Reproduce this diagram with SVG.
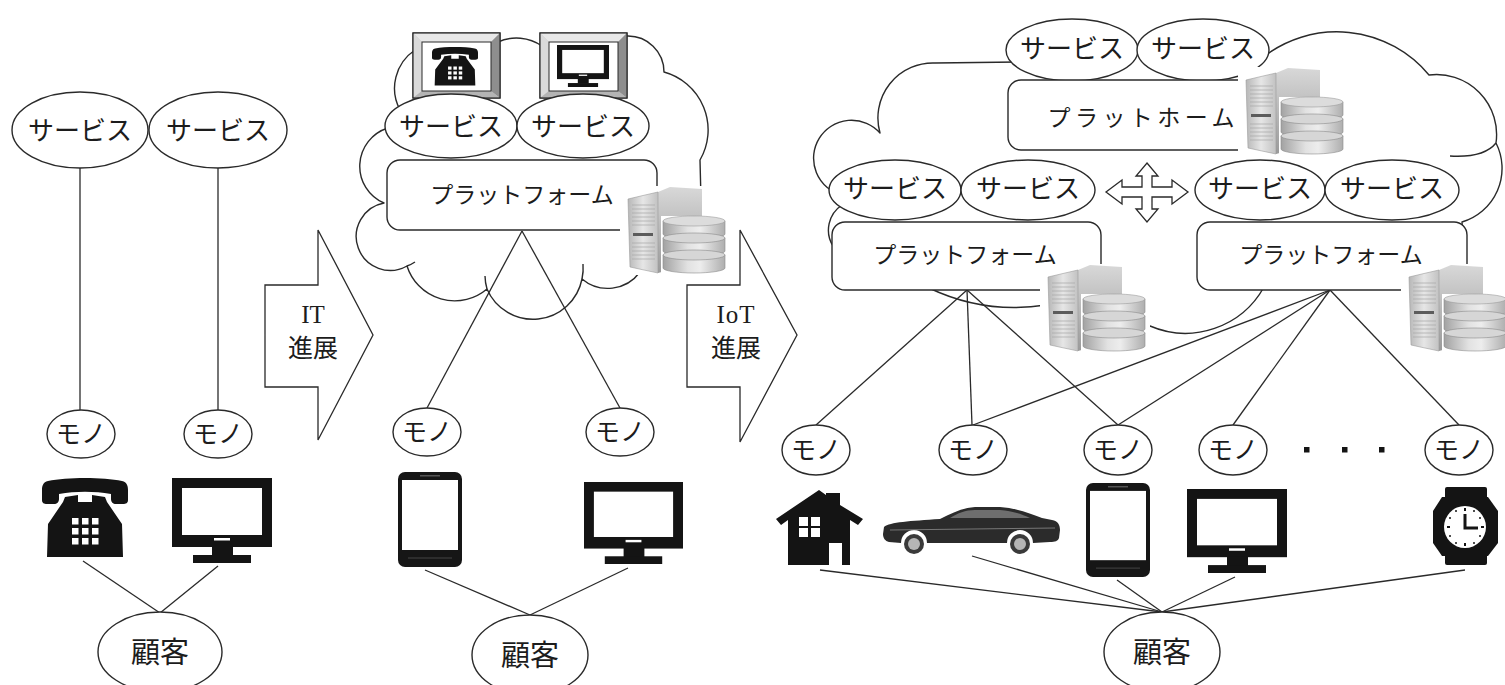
<svg xmlns="http://www.w3.org/2000/svg" width="1505" height="685" viewBox="0 0 1505 685">
  <defs>
    <style>
      .ln{fill:none;stroke:#2a2a2a;stroke-width:1.3}
      .el{fill:#fff;stroke:#2a2a2a;stroke-width:1.4}
      .box{fill:#fff;stroke:#2a2a2a;stroke-width:1.4}
      .cloud{fill:#fff;stroke:#2a2a2a;stroke-width:1.4;stroke-linejoin:round}
      .tail{fill:none;stroke:#2a2a2a;stroke-width:1.4}
      .arrow{fill:#fff;stroke:#2a2a2a;stroke-width:1.3;stroke-linejoin:miter}
      .jp{font-family:"Noto Sans CJK JP","Noto Sans CJK SC",sans-serif;fill:#1c1c1c;text-anchor:middle}
      .lat{font-family:"Liberation Serif","Noto Sans CJK JP",serif;fill:#1c1c1c;text-anchor:middle}
      .svc{font-size:26px}
      .mono{font-size:25px}
      .cust{font-size:29px}
      .plat{font-size:23px}
      .ink{fill:#141414}
      .vent{stroke:#a8a8a8;stroke-width:0.7;fill:none}
    </style>
    <linearGradient id="srvA" x1="0" y1="0" x2="1" y2="0">
      <stop offset="0" stop-color="#b7b7b7"/>
      <stop offset="0.5" stop-color="#e6e6e6"/>
      <stop offset="1" stop-color="#c2c2c2"/>
    </linearGradient>
    <linearGradient id="srvB" x1="0" y1="0" x2="0" y2="1">
      <stop offset="0" stop-color="#d8d8d8"/>
      <stop offset="1" stop-color="#9a9a9a"/>
    </linearGradient>
    <linearGradient id="disk" x1="0" y1="0" x2="1" y2="0">
      <stop offset="0" stop-color="#a2a2a2"/>
      <stop offset="0.4" stop-color="#e2e2e2"/>
      <stop offset="0.6" stop-color="#ededed"/>
      <stop offset="1" stop-color="#aeaeae"/>
    </linearGradient>

    <!-- server tower with database stack, on a white backing -->
    <symbol id="server" viewBox="0 0 110 92" preserveAspectRatio="none">
      <rect x="0" y="3" width="110" height="89" fill="#fff"/>
      <path d="M38 9 L50 4 L82 6 L82 78 L38 90 Z" fill="url(#srvB)"/>
      <path d="M8 16 L38 9 L38 90 L10 84 Z" fill="url(#srvA)" stroke="#9a9a9a" stroke-width="0.6"/>
      <path class="vent" d="M12 22 H35 M12 26 H35 M12 30 H35 M12 34 H35 M12 38 H35 M12 42 H35 M12 60 H35 M12 64 H35 M12 68 H35 M12 72 H35 M12 76 H35"/>
      <rect x="13" y="50" width="20" height="3" fill="#5c5c5c"/>
      <rect x="41" y="33" width="69" height="59" fill="#fff"/>
      <path d="M43 38 V51 A31 5 0 0 0 105 51 V38 Z" fill="url(#disk)" stroke="#8a8a8a" stroke-width="0.6"/>
      <ellipse cx="74" cy="38" rx="31" ry="5" fill="#dcdcdc" stroke="#9a9a9a" stroke-width="0.6"/>
      <path d="M43 55 V68 A31 5 0 0 0 105 68 V55 Z" fill="url(#disk)" stroke="#8a8a8a" stroke-width="0.6"/>
      <ellipse cx="74" cy="55" rx="31" ry="5" fill="#d6d6d6" stroke="#8a8a8a" stroke-width="0.6"/>
      <path d="M43 72 V85 A31 5 0 0 0 105 85 V72 Z" fill="url(#disk)" stroke="#8a8a8a" stroke-width="0.6"/>
      <ellipse cx="74" cy="72" rx="31" ry="5" fill="#d6d6d6" stroke="#8a8a8a" stroke-width="0.6"/>
    </symbol>

    <!-- desk telephone -->
    <symbol id="phone" viewBox="0 0 86 80" preserveAspectRatio="none">
      <path class="ink" d="M6 3 C25 -1 61 -1 80 3 C85 4 86 8 86 12 L86 22 C86 25 84 26 81 26 L74 26 C71 26 69 24 69 21 L69 16 C52 13 34 13 17 16 L17 21 C17 24 15 26 12 26 L5 26 C2 26 0 25 0 22 L0 12 C0 8 1 4 6 3 Z"/>
      <path class="ink" d="M23 19 L36 17 L36 24 L50 24 L50 17 L63 19 L65 24 L80 46 L81 79 L5 79 L6 46 L21 24 Z"/>
      <g fill="#fff">
        <rect x="30" y="40" width="6.5" height="6.5"/><rect x="40" y="40" width="6.5" height="6.5"/><rect x="50" y="40" width="6.5" height="6.5"/>
        <rect x="30" y="50" width="6.5" height="6.5"/><rect x="40" y="50" width="6.5" height="6.5"/><rect x="50" y="50" width="6.5" height="6.5"/>
        <rect x="30" y="60" width="6.5" height="6.5"/><rect x="40" y="60" width="6.5" height="6.5"/><rect x="50" y="60" width="6.5" height="6.5"/>
      </g>
    </symbol>

    <!-- flat-screen monitor -->
    <symbol id="monitor" viewBox="0 0 100 85" preserveAspectRatio="none">
      <rect class="ink" x="0" y="0" width="100" height="69"/>
      <rect x="10" y="10" width="80" height="47" fill="#fff"/>
      <rect x="42" y="60" width="16" height="2.5" fill="#fff"/>
      <rect class="ink" x="40" y="68" width="21" height="10"/>
      <rect class="ink" x="21" y="77" width="58" height="8"/>
    </symbol>

    <!-- smartphone -->
    <symbol id="smartphone" viewBox="0 0 64 95" preserveAspectRatio="none">
      <rect x="0" y="0" width="64" height="95" rx="7" fill="#161616"/>
      <rect x="4" y="8" width="56" height="70" fill="#fff"/>
      <rect x="22" y="3" width="20" height="1.5" fill="#555"/>
      <path d="M10 86 H54" stroke="#454545" stroke-width="1"/>
    </symbol>
  </defs>

  <rect x="0" y="0" width="1505" height="685" fill="#fff"/>

  <!-- clouds -->
  <g id="clouds">
    <path id="cloud-it" class="cloud" d="M384,203 A40 40 0 0 1 388,128 L400,110 A46 46 0 0 1 415,50 L498,42 A45 45 0 0 1 542,46 L622,38 L627,36 A36 36 0 0 1 664,72 A60 60 0 0 1 700,160 L702,240 L640,272 A40 40 0 0 1 582,279 A50 50 0 0 1 487,289 A50 50 0 0 1 407,266 A34 34 0 1 1 384,203 Z"/>
    <path class="tail" d="M487,289 A50 50 0 0 1 485,276"/>
    <path class="tail" d="M407,266 A34 34 0 0 0 415,262"/>
    <path class="tail" d="M582,279 A50 50 0 0 0 583,264"/>

    <path id="cloud-iot" class="cloud" d="M833,246 A30 30 0 0 1 842,205 L842,195 A38 38 0 1 1 880,133 A55 55 0 0 1 935,63 L1020,62 L1020,50 L1262,50 L1262,58 A120 120 0 0 1 1429,75 A60 60 0 0 1 1496,143 A56 56 0 0 1 1462,222 L1465,262 L1440,282 L1264,287 A90 90 0 0 1 1150,326 L1100,330 L1046,305 A200 200 0 0 1 929,288 L840,288 L840,248 Z"/>
    <path class="tail" d="M1496,143 Q1484,158 1450,156"/>
  </g>

  <!-- connectors -->
  <g id="connectors" class="ln">
    <path d="M80,168 V410"/>
    <path d="M218,168 V410"/>
    <path d="M83,561 L160,613"/>
    <path d="M218,566 L160,613"/>

    <path d="M522,231 L427,408"/>
    <path d="M522,231 L620,408"/>
    <path d="M425,570 L530,615"/>
    <path d="M628,568 L530,615"/>

    <path d="M967,290 L816,425"/>
    <path d="M967,290 L972,425"/>
    <path d="M967,290 L1118,425"/>
    <path d="M1330,290 L973,425"/>
    <path d="M1330,290 L1118,425"/>
    <path d="M1330,290 L1233,425"/>
    <path d="M1330,290 L1459,425"/>
    <path d="M820,570 L1162,612"/>
    <path d="M972,556 L1162,612"/>
    <path d="M1117,580 L1162,612"/>
    <path d="M1235,577 L1162,612"/>
    <path d="M1465,570 L1162,612"/>
  </g>

  <!-- progress arrows -->
  <g id="arrow-it">
    <polygon class="arrow" points="265,285 318,285 318,230 373,335 318,440 318,387 265,387"/>
    <text class="lat" x="313" y="323" font-size="25">IT</text>
    <text class="jp" x="313" y="357" font-size="25">進展</text>
  </g>
  <g id="arrow-iot">
    <polygon class="arrow" points="687,285 740,285 740,230 797,335 740,442 740,387 687,387"/>
    <text class="lat" x="736" y="323" font-size="25" letter-spacing="1">IoT</text>
    <text class="jp" x="736" y="357" font-size="25">進展</text>
  </g>

  <!-- stage 1: separate services -->
  <g id="svc-l1"><ellipse class="el" cx="80" cy="130" rx="68" ry="38"/><text class="jp svc" x="80" y="140">サービス</text></g>
  <g id="svc-l2"><ellipse class="el" cx="218" cy="130" rx="69" ry="38"/><text class="jp svc" x="218" y="140">サービス</text></g>
  <g id="thing-l1"><ellipse class="el" cx="81" cy="434" rx="34" ry="24"/><text class="jp mono" x="81" y="443">モノ</text></g>
  <g id="thing-l2"><ellipse class="el" cx="218" cy="434" rx="34" ry="24"/><text class="jp mono" x="218" y="443">モノ</text></g>
  <g id="dev-l1"><use href="#phone" x="42" y="478" width="86" height="80"/></g>
  <g id="dev-l2"><use href="#monitor" x="172" y="478" width="100" height="85"/></g>
  <g id="cust-l"><ellipse class="el" cx="160" cy="652" rx="62" ry="40"/><text class="jp cust" x="160" y="663">顧客</text></g>

  <!-- stage 2: cloud platform -->
  <g id="frame-phone">
    <rect x="413" y="33" width="87" height="65" fill="#c8c8c8" stroke="#2a2a2a" stroke-width="1.2"/>
    <polygon points="413,33 500,33 491,42 422,42" fill="#e8e8e8"/>
    <polygon points="413,33 422,42 422,91 413,98" fill="#dadada"/>
    <polygon points="500,33 500,98 491,91 491,42" fill="#8e8e8e"/>
    <polygon points="413,98 500,98 491,91 422,91" fill="#b4b4b4"/>
    <rect x="413" y="33" width="87" height="65" fill="none" stroke="#2a2a2a" stroke-width="1.2"/>
    <rect x="422" y="42" width="69" height="49" fill="#fff" stroke="#2a2a2a" stroke-width="1"/>
    <use href="#phone" x="432" y="47" width="46" height="39"/>
  </g>
  <g id="frame-monitor">
    <rect x="540" y="33" width="87" height="65" fill="#c8c8c8" stroke="#2a2a2a" stroke-width="1.2"/>
    <polygon points="540,33 627,33 618,42 549,42" fill="#e8e8e8"/>
    <polygon points="540,33 549,42 549,91 540,98" fill="#dadada"/>
    <polygon points="627,33 627,98 618,91 618,42" fill="#8e8e8e"/>
    <polygon points="540,98 627,98 618,91 549,91" fill="#b4b4b4"/>
    <rect x="540" y="33" width="87" height="65" fill="none" stroke="#2a2a2a" stroke-width="1.2"/>
    <rect x="549" y="42" width="69" height="49" fill="#fff" stroke="#2a2a2a" stroke-width="1"/>
    <use href="#monitor" x="557" y="45" width="52" height="42"/>
  </g>
  <g id="svc-m1"><ellipse class="el" cx="451" cy="126" rx="66" ry="32"/><text class="jp svc" x="451" y="136">サービス</text></g>
  <g id="svc-m2"><ellipse class="el" cx="583" cy="126" rx="66" ry="32"/><text class="jp svc" x="583" y="136">サービス</text></g>
  <g id="plat-m"><rect class="box" x="387" y="160" width="270" height="70" rx="13"/><text class="jp plat" x="522" y="203">プラットフォーム</text></g>
  <g id="server-m"><use href="#server" x="620" y="183" width="110" height="92"/></g>
  <g id="thing-m1"><ellipse class="el" cx="427" cy="432" rx="34" ry="24"/><text class="jp mono" x="427" y="441">モノ</text></g>
  <g id="thing-m2"><ellipse class="el" cx="620" cy="432" rx="34" ry="24"/><text class="jp mono" x="620" y="441">モノ</text></g>
  <g id="dev-m1"><use href="#smartphone" x="398" y="472" width="64" height="95"/></g>
  <g id="dev-m2"><use href="#monitor" x="584" y="482" width="99" height="82"/></g>
  <g id="cust-m"><ellipse class="el" cx="530" cy="655" rx="58" ry="40"/><text class="jp cust" x="530" y="666">顧客</text></g>

  <!-- stage 3: platform of platforms -->
  <g id="svc-t1"><ellipse class="el" cx="1072" cy="50" rx="66" ry="31"/><text class="jp svc" x="1072" y="58">サービス</text></g>
  <g id="svc-t2"><ellipse class="el" cx="1203" cy="50" rx="66" ry="31"/><text class="jp svc" x="1203" y="58">サービス</text></g>
  <g id="plat-top"><rect class="box" x="1008" y="80" width="254" height="70" rx="13"/><text class="jp plat" x="1141" y="126" font-size="24" textLength="187" lengthAdjust="spacing">プラットホーム</text></g>
  <g id="server-top"><use href="#server" x="1238" y="64" width="110" height="92"/></g>

  <g id="svc-r1"><ellipse class="el" cx="895" cy="190" rx="66" ry="30"/><text class="jp svc" x="895" y="198">サービス</text></g>
  <g id="svc-r2"><ellipse class="el" cx="1028" cy="190" rx="67" ry="30"/><text class="jp svc" x="1028" y="198">サービス</text></g>
  <g id="svc-r3"><ellipse class="el" cx="1260" cy="190" rx="65" ry="30"/><text class="jp svc" x="1260" y="198">サービス</text></g>
  <g id="svc-r4"><ellipse class="el" cx="1392" cy="190" rx="67" ry="30"/><text class="jp svc" x="1392" y="198">サービス</text></g>
  <g id="exchange">
    <polygon class="arrow" points="1147,163 1158,176 1152,176 1152,187 1172,187 1172,180 1188,192 1172,204 1172,197 1152,197 1152,209 1158,209 1147,222 1136,209 1142,209 1142,197 1122,197 1122,204 1106,192 1122,180 1122,187 1142,187 1142,176 1136,176"/>
  </g>
  <g id="plat-r1"><rect class="box" x="832" y="222" width="269" height="68" rx="13"/><text class="jp plat" x="965" y="263">プラットフォーム</text></g>
  <g id="plat-r2"><rect class="box" x="1197" y="222" width="270" height="68" rx="13"/><text class="jp plat" x="1331" y="263">プラットフォーム</text></g>
  <g id="server-r1"><use href="#server" x="1040" y="261" width="110" height="92"/></g>
  <g id="server-r2"><use href="#server" x="1401" y="261" width="110" height="92"/></g>

  <g id="thing-r1"><ellipse class="el" cx="816" cy="450" rx="34" ry="25"/><text class="jp mono" x="816" y="459">モノ</text></g>
  <g id="thing-r2"><ellipse class="el" cx="973" cy="450" rx="34" ry="25"/><text class="jp mono" x="973" y="459">モノ</text></g>
  <g id="thing-r3"><ellipse class="el" cx="1118" cy="450" rx="34" ry="25"/><text class="jp mono" x="1118" y="459">モノ</text></g>
  <g id="thing-r4"><ellipse class="el" cx="1233" cy="450" rx="34" ry="25"/><text class="jp mono" x="1233" y="459">モノ</text></g>
  <g id="thing-r5"><ellipse class="el" cx="1459" cy="450" rx="34" ry="25"/><text class="jp mono" x="1459" y="459">モノ</text></g>
  <g id="more" class="ink">
    <rect x="1304" y="447" width="5.5" height="5.5"/>
    <rect x="1342" y="447" width="5.5" height="5.5"/>
    <rect x="1379" y="447" width="5.5" height="5.5"/>
  </g>

  <g id="dev-house">
    <path class="ink" d="M776,519 L819,490 L826,495 L826,493 L840,493 L840,505 L863,519 L858,525 L850,520 L850,565 L842,565 L842,543 L829,543 L829,565 L788,565 L788,520 L781,525 Z"/>
    <g fill="#fff">
      <rect x="799" y="517" width="9" height="9"/><rect x="811" y="517" width="9" height="9"/>
      <rect x="799" y="528" width="9" height="9"/><rect x="811" y="528" width="9" height="9"/>
    </g>
  </g>
  <g id="dev-car">
    <path fill="#2b2b2b" d="M884,527 C890,522 910,521 940,519 C952,513 962,508 975,507 L1000,507 C1015,508 1030,513 1042,518 L1052,520 C1058,521 1060,525 1060,530 L1059,538 C1058,541 1055,542 1050,542 L1033,543 A13 13 0 0 0 1007,543 L927,543 A13 13 0 0 0 901,543 L889,542 C885,541 883,538 883,534 Z"/>
    <path fill="#6e6e6e" d="M950,518 C958,513 965,510 975,510 L1000,510 C1012,511 1022,514 1030,518 Z"/>
    <path d="M890,530 L1055,528" stroke="#777" stroke-width="1" fill="none"/>
    <circle cx="914" cy="544" r="10" fill="#3a3a3a"/><circle cx="914" cy="544" r="6" fill="#b5b5b5"/>
    <circle cx="1020" cy="544" r="10" fill="#3a3a3a"/><circle cx="1020" cy="544" r="6" fill="#b5b5b5"/>
  </g>
  <g id="dev-r3"><use href="#smartphone" x="1086" y="483" width="64" height="94"/></g>
  <g id="dev-r4"><use href="#monitor" x="1187" y="489" width="100" height="84"/></g>
  <g id="dev-watch">
    <rect class="ink" x="1445" y="487" width="42" height="12" rx="2"/>
    <rect class="ink" x="1445" y="553" width="42" height="12" rx="2"/>
    <polygon class="ink" points="1442,497 1488,497 1498,511 1498,543 1488,556 1442,556 1433,543 1433,511"/>
    <circle cx="1465" cy="527" r="21" fill="#fff"/>
    <g class="ink">
      <rect x="1464" y="508" width="2" height="3"/><rect x="1464" y="543" width="2" height="3"/>
      <rect x="1447" y="526" width="3" height="2"/><rect x="1481" y="526" width="3" height="2"/>
      <circle cx="1474" cy="511" r="1"/><circle cx="1480" cy="518" r="1"/><circle cx="1480" cy="536" r="1"/><circle cx="1474" cy="543" r="1"/>
      <circle cx="1456" cy="543" r="1"/><circle cx="1450" cy="536" r="1"/><circle cx="1450" cy="518" r="1"/><circle cx="1456" cy="511" r="1"/>
    </g>
    <path d="M1465,514 V528 H1478" stroke="#141414" stroke-width="3" fill="none"/>
  </g>
  <g id="cust-r"><ellipse class="el" cx="1162" cy="652" rx="58" ry="40"/><text class="jp cust" x="1162" y="663">顧客</text></g>
</svg>
